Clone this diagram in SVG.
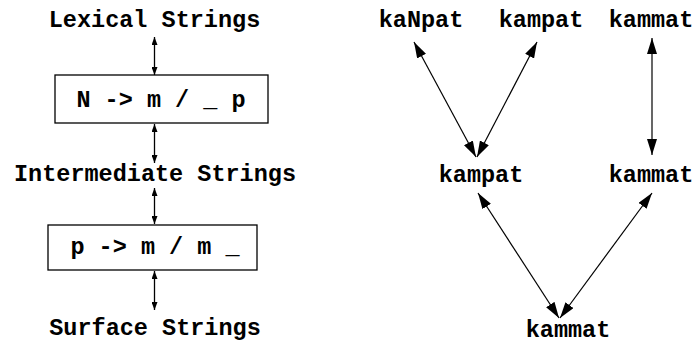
<svg xmlns="http://www.w3.org/2000/svg" width="696" height="343" viewBox="0 0 696 343">
<defs>
<style>
text{font-family:"Liberation Mono","Courier New",monospace;font-weight:bold;fill:#000;text-anchor:middle}
.lbl{font-size:23.5px}
.box{fill:#fff;stroke:#000;stroke-width:1.3}
.sm{stroke:#000;stroke-width:1.3;fill:none;marker-start:url(#s);marker-end:url(#s)}
.lg{stroke:#000;stroke-width:1.2;fill:none;marker-start:url(#l);marker-end:url(#l)}
</style>
<marker id="s" viewBox="0 0 8 6" refX="8" refY="3" markerWidth="8" markerHeight="6" markerUnits="userSpaceOnUse" orient="auto-start-reverse"><path d="M0,0L8,3L0,6z" fill="#000"/></marker>
<marker id="l" viewBox="0 0 16 10" refX="16" refY="5" markerWidth="16" markerHeight="10" markerUnits="userSpaceOnUse" orient="auto-start-reverse"><path d="M0,0L16,5L0,10z" fill="#000"/></marker>
</defs>
<g id="edges">
<line class="sm" x1="154.5" y1="37" x2="154.5" y2="75"/>
<line class="sm" x1="154.5" y1="124" x2="154.5" y2="163"/>
<line class="sm" x1="154.5" y1="188" x2="154.5" y2="224"/>
<line class="sm" x1="154.5" y1="271" x2="154.5" y2="310"/>
<line class="lg" x1="414" y1="42" x2="476" y2="157"/>
<line class="lg" x1="537" y1="42" x2="477" y2="157"/>
<line class="lg" x1="652" y1="38" x2="652" y2="155"/>
<line class="lg" x1="478" y1="193" x2="559" y2="318"/>
<line class="lg" x1="652" y1="193" x2="560" y2="318"/>
</g>
<g id="lexical"><text class="lbl" x="154.5" y="27">Lexical Strings</text></g>
<g id="rule1"><rect class="box" x="55" y="75" width="213" height="48"/><text class="lbl" x="161" y="107">N -&gt; m / _ p</text></g>
<g id="intermediate"><text class="lbl" x="155" y="181">Intermediate Strings</text></g>
<g id="rule2"><rect class="box" x="48" y="225" width="209" height="45"/><text class="lbl" x="155" y="254">p -&gt; m / m _</text></g>
<g id="surface"><text class="lbl" x="155" y="335">Surface Strings</text></g>
<g id="kaNpat"><text class="lbl" x="421" y="27">kaNpat</text></g>
<g id="kampat1"><text class="lbl" x="541" y="27">kampat</text></g>
<g id="kammat1"><text class="lbl" x="651" y="27">kammat</text></g>
<g id="kampat2"><text class="lbl" x="481" y="182">kampat</text></g>
<g id="kammat2"><text class="lbl" x="651" y="182">kammat</text></g>
<g id="kammat3"><text class="lbl" x="568" y="337">kammat</text></g>
</svg>
